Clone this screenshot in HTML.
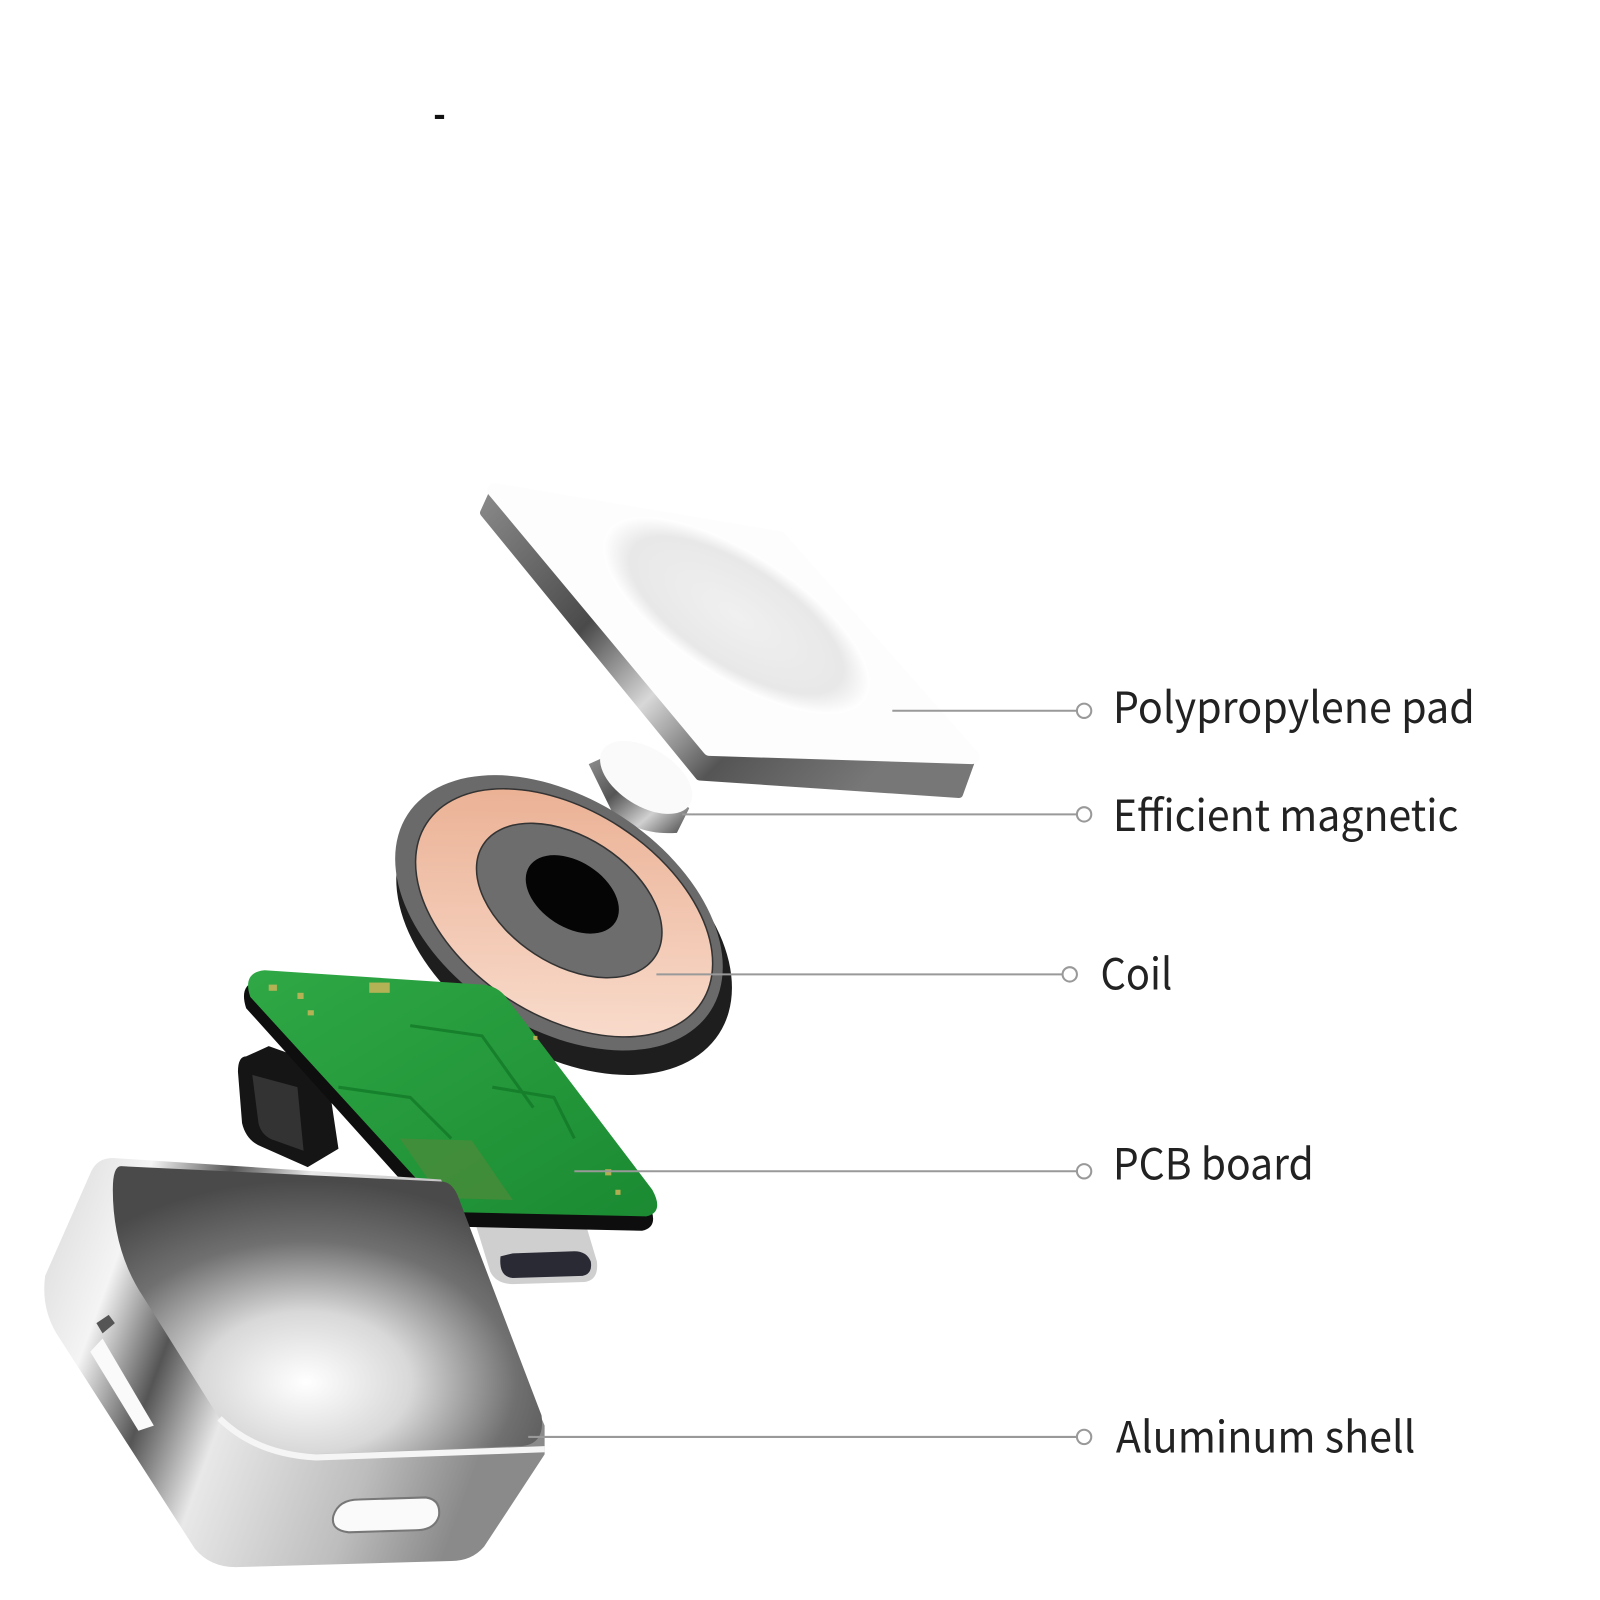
<!DOCTYPE html>
<html><head><meta charset="utf-8"><style>
html,body{margin:0;padding:0;background:#fff;}
svg{display:block;}
text{font-family:"Noto Sans CJK SC","Liberation Sans",sans-serif;fill:#222;}
</style></head><body>
<svg width="1600" height="1600" viewBox="0 0 1560 1560" xmlns="http://www.w3.org/2000/svg">
<defs>
<linearGradient id="edge" x1="0" y1="0" x2="1" y2="1">
<stop offset="0" stop-color="#9a9a9a"/><stop offset="0.4" stop-color="#555"/><stop offset="0.7" stop-color="#d0d0d0"/><stop offset="1" stop-color="#444"/>
</linearGradient>
<linearGradient id="padedge" x1="0" y1="0" x2="1" y2="0.6">
<stop offset="0" stop-color="#8a8a8a"/><stop offset="0.35" stop-color="#4a4a4a"/><stop offset="0.55" stop-color="#d8d8d8"/><stop offset="0.75" stop-color="#555"/><stop offset="1" stop-color="#777"/>
</linearGradient>
<radialGradient id="dish" cx="0.5" cy="0.5" r="0.5">
<stop offset="0" stop-color="#f0f0f0"/><stop offset="0.8" stop-color="#e8e8e8"/><stop offset="1" stop-color="#fff"/>
</radialGradient>
<linearGradient id="ring" x1="0" y1="0" x2="1" y2="1">
<stop offset="0" stop-color="#e8a98a"/><stop offset="1" stop-color="#fbe3d6"/>
</linearGradient>
<linearGradient id="metal" x1="0" y1="0" x2="1" y2="0.3">
<stop offset="0" stop-color="#d8d8d8"/><stop offset="0.2" stop-color="#f4f4f4"/><stop offset="0.35" stop-color="#555"/><stop offset="0.5" stop-color="#e8e8e8"/><stop offset="0.8" stop-color="#bdbdbd"/><stop offset="1" stop-color="#8a8a8a"/>
</linearGradient>
<radialGradient id="inner" cx="0.45" cy="0.75" r="0.7">
<stop offset="0" stop-color="#ffffff"/><stop offset="0.35" stop-color="#d8d8d8"/><stop offset="0.7" stop-color="#707070"/><stop offset="1" stop-color="#4a4a4a"/>
</radialGradient>
<linearGradient id="pcb" x1="0" y1="0" x2="1" y2="1">
<stop offset="0" stop-color="#2fa845"/><stop offset="1" stop-color="#1b8a32"/>
</linearGradient>
</defs>

<rect x="424" y="112" width="9" height="4" fill="#111"/>

<!-- pad -->
<path d="M482 478 L472 500 L682 757 L935 774 L948 738 L692 730 Z" fill="url(#padedge)" stroke="url(#padedge)" stroke-width="8" stroke-linejoin="round"/>
<path d="M482 478 L760 525 L948 738 L692 730 Z" fill="#fdfdfd" stroke="#fdfdfd" stroke-width="14" stroke-linejoin="round"/>
<ellipse cx="718" cy="600" rx="150" ry="60" transform="rotate(33 718 600)" fill="url(#dish)"/>

<!-- magnet -->
<path d="M574 745 L596 790 Q620 815 660 812 L672 788 L612 728 Z" fill="url(#edge)"/>
<ellipse cx="630" cy="758" rx="50" ry="28" transform="rotate(32 630 758)" fill="#fafafa"/>

<!-- coil -->
<ellipse cx="550" cy="910" rx="180" ry="116" transform="rotate(33 550 910)" fill="#1e1e1e"/>
<ellipse cx="545" cy="890" rx="176" ry="112" transform="rotate(33 545 890)" fill="#6a6a6a"/>
<ellipse cx="550" cy="890" rx="160" ry="100" transform="rotate(33 550 890)" fill="url(#ring)" stroke="#333" stroke-width="1.5"/>
<ellipse cx="555" cy="878" rx="100" ry="62" transform="rotate(33 555 878)" fill="#6d6d6d" stroke="#333" stroke-width="1.5"/>
<ellipse cx="558" cy="872" rx="50" ry="32" transform="rotate(33 558 872)" fill="#050505"/>

<!-- black connector -->
<path d="M240 1030 Q232 1030 232 1045 L236 1095 Q240 1112 255 1118 L300 1138 L330 1120 L318 1040 L262 1020 Z" fill="#151515"/>
<path d="M246 1048 L252 1095 Q255 1108 268 1112 L296 1122 L290 1060 Z" fill="#333"/>

<!-- usb-c tip -->
<path d="M462 1188 L478 1240 Q484 1252 500 1252 L570 1250 Q584 1248 582 1230 L570 1190 Z" fill="#cfcfcf"/>
<path d="M488 1225 Q486 1245 500 1246 L568 1244 Q578 1242 576 1230 Q572 1220 560 1220 L500 1222 Z" fill="#2a2a35"/>

<!-- pcb -->
<path d="M258 948 L470 962 Q485 963 494 975 L636 1165 Q648 1188 630 1192 L448 1188 Q432 1187 424 1175 L244 975 Q236 950 258 948 Z" fill="#0e0e0e" transform="translate(-4,8)"/>
<path d="M258 946 L470 960 Q485 961 494 973 L636 1160 Q648 1182 630 1186 L448 1182 Q432 1181 424 1169 L244 972 Q236 948 258 946 Z" fill="url(#pcb)"/>
<g fill="#d6b65a" opacity="0.8">
<rect x="262" y="960" width="8" height="6"/><rect x="290" y="968" width="6" height="6"/><rect x="360" y="958" width="20" height="10"/><rect x="300" y="985" width="6" height="5"/><rect x="590" y="1140" width="6" height="6"/><rect x="600" y="1160" width="5" height="5"/><rect x="520" y="1010" width="4" height="4"/>
</g>
<path d="M390 1110 L460 1112 L500 1170 L430 1168 Z" fill="#4f8a3a" opacity="0.7"/>
<g stroke="#137a28" stroke-width="3" fill="none" opacity="0.8">
<path d="M400 1000 L470 1010 L520 1080"/><path d="M330 1060 L400 1070 L440 1110"/><path d="M480 1060 L540 1070 L560 1110"/>
</g>

<!-- shell -->
<path d="M110 1129 L430 1150 L531 1390 L531 1418 L472 1508 Q460 1522 440 1522 L230 1528 Q205 1528 190 1510 L55 1300 Q40 1275 44 1244 L89 1142 Q95 1129 110 1129 Z" fill="url(#metal)"/>
<path d="M118 1137 L430 1152 Q440 1152 446 1165 L528 1380 Q532 1410 505 1410 L300 1418 Q250 1415 214 1383 L140 1265 Q110 1220 110 1160 Q110 1137 118 1137 Z" fill="url(#inner)"/>
<path d="M214 1383 Q250 1418 308 1421 L531 1413" stroke="#f5f5f5" stroke-width="6" fill="none"/>
<path d="M94 1290 L100 1300 L112 1290 L106 1282 Z" fill="#555"/>
<path d="M100 1305 L150 1390 L135 1395 L88 1318 Z" fill="#fafafa"/>
<path d="M325 1478 Q330 1462 350 1462 L415 1460 Q430 1462 428 1478 Q424 1492 405 1492 L340 1494 Q322 1492 325 1478 Z" fill="#fafafa" stroke="#777" stroke-width="2"/>

<!-- leader lines -->
<g transform="translate(-6,-3)">
<g stroke="#999" stroke-width="2" fill="#fff">
<line x1="876" y1="696" x2="1056" y2="696"/><circle cx="1063" cy="696" r="7"/>
<line x1="671" y1="797" x2="1056" y2="797"/><circle cx="1063" cy="797" r="7"/>
<line x1="646" y1="953" x2="1042" y2="953"/><circle cx="1049" cy="953" r="7"/>
<line x1="566" y1="1145" x2="1056" y2="1145"/><circle cx="1063" cy="1145" r="7"/>
<line x1="521" y1="1404" x2="1056" y2="1404"/><circle cx="1063" cy="1404" r="7"/>
</g>
<text x="1091" y="708" font-size="42" textLength="353" lengthAdjust="spacingAndGlyphs">Polypropylene pad</text>
<text x="1091" y="813" font-size="42" textLength="337" lengthAdjust="spacingAndGlyphs">Efficient magnetic</text>
<text x="1079" y="968" font-size="42" textLength="70" lengthAdjust="spacingAndGlyphs">Coil</text>
<text x="1091" y="1153" font-size="42" textLength="196" lengthAdjust="spacingAndGlyphs">PCB board</text>
<text x="1094" y="1419" font-size="42" textLength="292" lengthAdjust="spacingAndGlyphs">Aluminum shell</text>
</g>
</svg>
</body></html>
